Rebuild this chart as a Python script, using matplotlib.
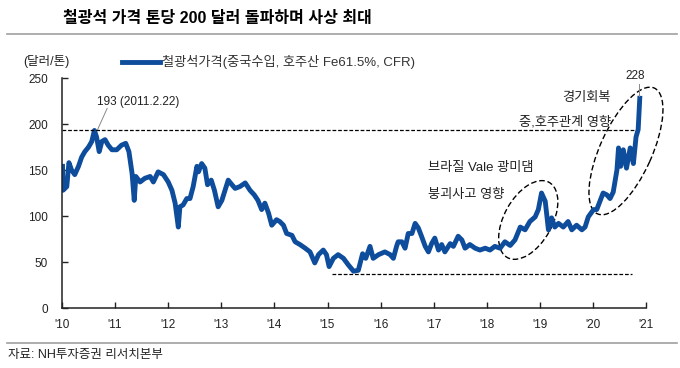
import matplotlib
matplotlib.use("Agg")
import matplotlib.pyplot as plt
from matplotlib.lines import Line2D
from matplotlib.patches import Ellipse
from matplotlib.transforms import ScaledTranslation

plt.rcParams['font.family'] = ['Liberation Sans', 'Noto Sans CJK KR']

# Data
years = [
    2010.01, 2010.02, 2010.09, 2010.13, 2010.18, 2010.24, 2010.31, 2010.37, 2010.43, 2010.50,
    2010.56, 2010.61, 2010.65, 2010.70, 2010.75, 2010.81, 2010.87, 2010.94, 2011.03, 2011.12,
    2011.20, 2011.26, 2011.32, 2011.36, 2011.39, 2011.47, 2011.56, 2011.66, 2011.72, 2011.81,
    2011.91, 2012.00, 2012.07, 2012.13, 2012.19, 2012.22, 2012.28, 2012.35, 2012.41, 2012.47,
    2012.54, 2012.57, 2012.63, 2012.69, 2012.74, 2012.81, 2012.87, 2012.94, 2013.01, 2013.07,
    2013.13, 2013.20, 2013.26, 2013.35, 2013.45, 2013.54, 2013.62, 2013.69, 2013.76, 2013.82,
    2013.89, 2013.95, 2014.04, 2014.10, 2014.17, 2014.23, 2014.33, 2014.39, 2014.48, 2014.58,
    2014.67, 2014.76, 2014.83, 2014.92, 2014.98, 2015.03, 2015.11, 2015.20, 2015.30, 2015.39,
    2015.49, 2015.58, 2015.66, 2015.72, 2015.80, 2015.86, 2015.96, 2016.08, 2016.18, 2016.24,
    2016.30, 2016.33, 2016.40, 2016.46, 2016.52, 2016.59, 2016.65, 2016.71, 2016.77, 2016.84,
    2016.90, 2016.96, 2017.02, 2017.09, 2017.15, 2017.21, 2017.31, 2017.37, 2017.46, 2017.53,
    2017.59, 2017.68, 2017.78, 2017.87, 2017.97, 2018.06, 2018.15, 2018.25, 2018.34, 2018.44,
    2018.53, 2018.63, 2018.72, 2018.81, 2018.91, 2018.97, 2019.03, 2019.10, 2019.16, 2019.22,
    2019.28, 2019.35, 2019.44, 2019.53, 2019.60, 2019.69, 2019.79, 2019.85, 2019.91, 2020.01,
    2020.07, 2020.13, 2020.19, 2020.26, 2020.32, 2020.38, 2020.45, 2020.48, 2020.52, 2020.57,
    2020.63, 2020.70, 2020.76, 2020.81, 2020.85, 2020.88,
]
prices = [
    154, 128, 132, 158, 150, 145, 154, 164, 170, 175,
    181, 193, 186, 170, 181, 183, 177, 172, 172, 177,
    179, 170, 146, 117, 143, 137, 141, 143, 137, 148,
    145, 137, 128, 114, 88, 110, 112, 119, 119, 132,
    154, 148, 157, 152, 134, 139, 128, 110, 117, 128,
    139, 134, 130, 132, 136, 128, 123, 117, 107, 114,
    103, 90, 96, 94, 90, 81, 79, 72, 69, 65,
    61, 49, 58, 63, 58, 45, 54, 58, 54, 47,
    40, 41, 59, 54, 67, 54, 58, 61, 58, 54,
    67, 72, 72, 65, 81, 81, 92, 87, 78, 67,
    61, 70, 76, 63, 69, 61, 70, 67, 78, 74,
    65, 69, 65, 63, 65, 63, 67, 65, 72, 68,
    74, 88, 85, 94, 99, 107, 125, 116, 85, 98,
    88, 92, 88, 94, 85, 90, 85, 88, 99, 107,
    107, 116, 125, 123, 119, 126, 150, 174, 154, 172,
    152, 174, 157, 186, 194, 228,
]

year_ticks = list(range(2010, 2022))
year_labels = ["'10", "'11", "'12", "'13", "'14", "'15", "'16", "'17", "'18", "'19", "'20", "'21"]
y_ticks = [0, 50, 100, 150, 200, 250]

prev_high = 193
low_2015 = 37
latest = 228

LINE_COLOR = "#0E4C9C"

fig = plt.figure(figsize=(6.8, 3.68), dpi=100)
ax = fig.add_axes([0.0912, 0.163, 0.859, 0.625])

ax.plot(years, prices, color=LINE_COLOR, linewidth=3.5, solid_joinstyle="round")

# reference lines
ax.plot([2010.0, 2020.79], [prev_high, prev_high], color="black", linestyle=(0, (3, 1.5)), linewidth=0.9)
ax.plot([2015.08, 2020.73], [low_2015, low_2015], color="black", linestyle=(0, (3, 1.5)), linewidth=0.9)

# annotations
ax.plot([2010.85, 2010.67], [217, 194], color="#888888", linewidth=0.7)
ax.text(2010.66, 224, "193 (2011.2.22)", fontsize=8.5, ha="left", va="center", color="#222222")
ax.plot([2020.87, 2020.87], [243, 230], color="#888888", linewidth=0.7, clip_on=False)
ax.text(2020.79, 252, str(latest), fontsize=8.5, ha="center", va="center", color="#222222", clip_on=False)

ax.text(2020.34, 228, "경기회복", fontsize=9.5, ha="right", va="center", color="#222222")
ax.text(2020.34, 202, "중,호주관계 영향", fontsize=9.5, ha="right", va="center", color="#222222")
ax.text(2016.89, 152, "브라질 Vale 광미댐", fontsize=9.5, ha="left", va="center", color="#222222")
ax.text(2016.89, 123, "붕괴사고 영향", fontsize=9.5, ha="left", va="center", color="#222222")

# dashed ellipses (size in inches, centred on data points)
for cx, cy, w, h, ang in [(2020.62, 170.7, 1.38, 0.52, 65.7), (2018.78, 95.7, 0.86, 0.48, 61)]:
    tr = fig.dpi_scale_trans + ScaledTranslation(cx, cy, ax.transData)
    e = Ellipse((0, 0), w, h, angle=ang, transform=tr, fill=False,
                edgecolor="black", linestyle=(0, (4, 2)), linewidth=1.0, clip_on=False)
    ax.add_patch(e)

ax.set_xlim(2010, 2021)
ax.set_ylim(0, 250)
ax.set_xticks(year_ticks)
ax.set_xticklabels(year_labels)
ax.set_yticks(y_ticks)
ax.tick_params(axis="both", direction="in", length=4, width=1, labelsize=8.5, colors="#222222")
ax.tick_params(axis="y", pad=10)
ax.tick_params(axis="x", pad=8)
for s in ["top", "right"]:
    ax.spines[s].set_visible(False)
for s in ["left", "bottom"]:
    ax.spines[s].set_linewidth(1.1)
    ax.spines[s].set_color("#222222")

# header / footer
fig.text(0.093, 0.951, "철광석 가격 톤당 200 달러 돌파하며 사상 최대", fontsize=11.5,
         fontweight="bold", ha="left", va="center")
fig.add_artist(Line2D([0.01, 0.995], [0.908, 0.908], color="#a0a0a0", linewidth=1.2))
fig.add_artist(Line2D([0.01, 0.995], [0.068, 0.068], color="#a0a0a0", linewidth=1.2))
fig.text(0.012, 0.035, "자료: NH투자증권 리서치본부", fontsize=9, ha="left", va="center", color="#222222")

fig.text(0.034, 0.832, "(달러/톤)", fontsize=9, ha="left", va="center", color="#222222")
fig.add_artist(Line2D([0.179, 0.235], [0.832, 0.832], color=LINE_COLOR, linewidth=3.5))
fig.text(0.238, 0.832, "철광석가격(중국수입, 호주산 Fe61.5%, CFR)", fontsize=9.5,
         ha="left", va="center", color="#333333")

fig.savefig("out.png", dpi=100)
